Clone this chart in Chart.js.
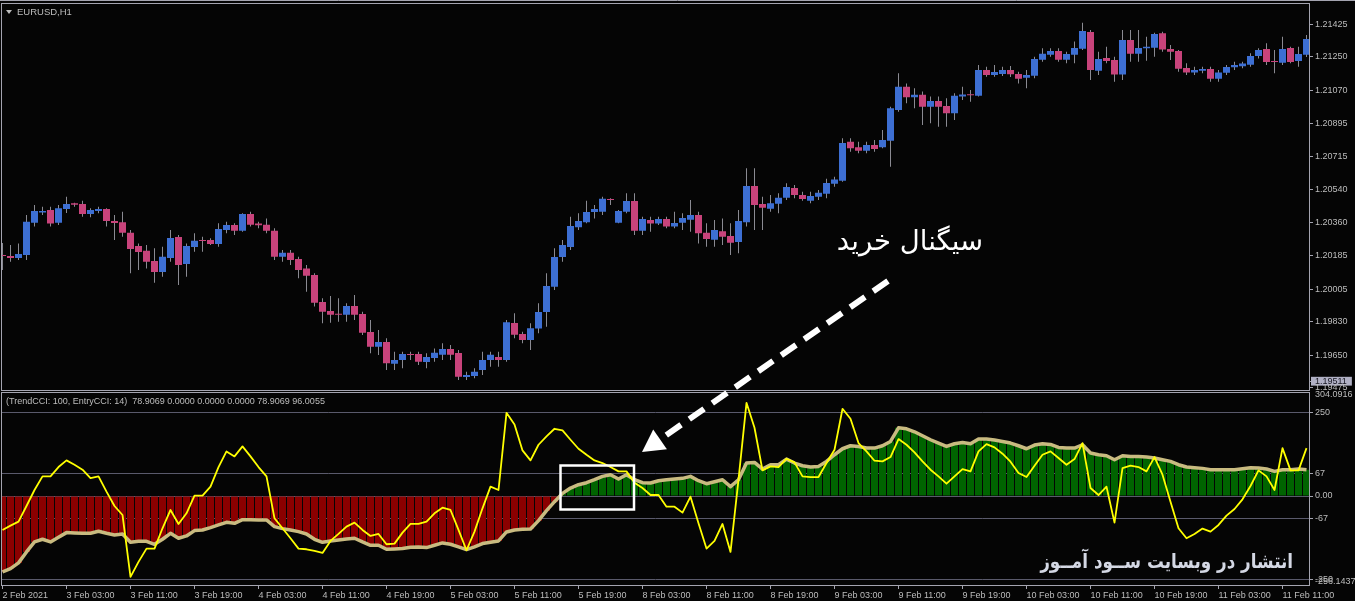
<!DOCTYPE html>
<html><head><meta charset="utf-8">
<script src="https://cdn.jsdelivr.net/npm/chart.js@4.4.1/dist/chart.umd.min.js"></script>
<style>
html,body{margin:0;padding:0;background:#000;}
#wrap{position:relative;width:1355px;height:601px;overflow:hidden;background:#050505;}
canvas{position:absolute;left:0;top:0;}
.lbl{position:absolute;white-space:pre;font-family:'Liberation Sans',Arial,sans-serif;font-size:9px;color:#bdbdbd;line-height:1;}
.fa{position:absolute;white-space:nowrap;direction:rtl;font-family:'DejaVu Sans',sans-serif;line-height:1;}
#tri{position:absolute;left:6px;top:10px;width:0;height:0;border-left:3px solid transparent;border-right:3px solid transparent;border-top:4px solid #bdbdbd;}
</style></head><body>
<div id="wrap">
<canvas id="c" width="1355" height="601"></canvas>
<div id="tri"></div>
<div class="lbl" style="left:17px;top:7px;font-size:9.5px">EURUSD,H1</div>
<div class="lbl" style="left:6px;top:397px">(TrendCCI: 100, EntryCCI: 14)  78.9069 0.0000 0.0000 0.0000 78.9069 96.0055</div>
<div class="fa" style="right:372px;top:227px;font-size:27.5px;color:#ffffff">سیگنال خرید</div>
<div class="fa" style="right:62px;top:551px;font-size:20px;font-weight:bold;color:#d4d8e4;transform:scaleX(0.84);transform-origin:right center">انتشار در وبسایت ســود آمــوز</div>
</div>
<script>
// ---- price candles (EURUSD H1, from 2 Feb 19:00 to 11 Feb 14:00) ----
const open = [1.20184,1.20182,1.20172,1.20188,1.20361,1.20415,1.20429,1.20361,1.20434,1.20465,1.20461,1.20408,1.20424,1.20434,1.20370,1.20364,1.20307,1.20236,1.20211,1.20156,1.20097,1.20172,1.20284,1.20140,1.20231,1.20268,1.20268,1.20247,1.20322,1.20349,1.20318,1.20408,1.20356,1.20350,1.20318,1.20179,1.20200,1.20166,1.20116,1.20081,1.19936,1.19888,1.19872,1.19868,1.19914,1.19872,1.19775,1.19696,1.19721,1.19605,1.19625,1.19657,1.19657,1.19614,1.19636,1.19653,1.19684,1.19662,1.19534,1.19539,1.19571,1.19625,1.19641,1.19625,1.19823,1.19764,1.19732,1.19793,1.19882,1.20018,1.20177,1.20231,1.20336,1.20364,1.20418,1.20420,1.20488,1.20361,1.20420,1.20477,1.20318,1.20375,1.20356,1.20381,1.20340,1.20361,1.20377,1.20402,1.20307,1.20270,1.20315,1.20290,1.20258,1.20364,1.20558,1.20461,1.20436,1.20463,1.20495,1.20547,1.20510,1.20479,1.20500,1.20516,1.20570,1.20586,1.20795,1.20765,1.20747,1.20778,1.20765,1.20801,1.20965,1.21090,1.21033,1.21047,1.20983,1.21014,1.20987,1.20948,1.21037,1.21049,1.21042,1.21180,1.21153,1.21158,1.21180,1.21158,1.21138,1.21149,1.21235,1.21262,1.21282,1.21235,1.21262,1.21294,1.21384,1.21176,1.21244,1.21233,1.21155,1.21341,1.21267,1.21296,1.21299,1.21377,1.21292,1.21282,1.21190,1.21167,1.21176,1.21185,1.21133,1.21165,1.21194,1.21200,1.21208,1.21255,1.21292,1.21228,1.21219,1.21298,1.21228,1.21262];
const high = [1.20252,1.20241,1.20250,1.20402,1.20456,1.20447,1.20447,1.20456,1.20500,1.20468,1.20479,1.20438,1.20447,1.20438,1.20402,1.20420,1.20322,1.20250,1.20241,1.20224,1.20232,1.20322,1.20295,1.20250,1.20304,1.20286,1.20277,1.20358,1.20366,1.20358,1.20411,1.20420,1.20366,1.20384,1.20331,1.20215,1.20215,1.20179,1.20134,1.20090,1.19956,1.19968,1.19956,1.19929,1.19973,1.19884,1.19839,1.19786,1.19741,1.19669,1.19669,1.19669,1.19669,1.19661,1.19687,1.19714,1.19705,1.19678,1.19562,1.19580,1.19669,1.19669,1.19669,1.19839,1.19875,1.19776,1.19822,1.19929,1.20090,1.20224,1.20268,1.20393,1.20411,1.20479,1.20456,1.20500,1.20492,1.20429,1.20519,1.20519,1.20393,1.20393,1.20393,1.20393,1.20420,1.20411,1.20483,1.20420,1.20358,1.20375,1.20384,1.20358,1.20429,1.20653,1.20653,1.20500,1.20510,1.20519,1.20573,1.20563,1.20527,1.20527,1.20536,1.20596,1.20608,1.20814,1.20814,1.20795,1.20795,1.20804,1.20858,1.20983,1.21162,1.21108,1.21082,1.21064,1.21037,1.21037,1.21028,1.21055,1.21090,1.21072,1.21207,1.21197,1.21207,1.21197,1.21201,1.21171,1.21180,1.21251,1.21296,1.21296,1.21296,1.21278,1.21332,1.21433,1.21394,1.21278,1.21305,1.21251,1.21394,1.21394,1.21394,1.21358,1.21380,1.21385,1.21314,1.21287,1.21216,1.21197,1.21197,1.21197,1.21180,1.21207,1.21224,1.21224,1.21269,1.21296,1.21323,1.21287,1.21358,1.21305,1.21305,1.21368];
const low = [1.20107,1.20152,1.20161,1.20161,1.20340,1.20402,1.20340,1.20349,1.20413,1.20447,1.20393,1.20390,1.20411,1.20340,1.20268,1.20286,1.20090,1.20107,1.20116,1.20039,1.20071,1.20152,1.20027,1.20071,1.20205,1.20205,1.20241,1.20232,1.20304,1.20295,1.20313,1.20340,1.20331,1.20304,1.20161,1.20152,1.20134,1.20063,1.19991,1.19911,1.19822,1.19825,1.19830,1.19830,1.19839,1.19759,1.19661,1.19652,1.19571,1.19571,1.19580,1.19625,1.19598,1.19580,1.19616,1.19625,1.19625,1.19518,1.19518,1.19527,1.19544,1.19589,1.19589,1.19616,1.19741,1.19714,1.19678,1.19768,1.19803,1.20000,1.20152,1.20215,1.20322,1.20358,1.20384,1.20402,1.20456,1.20358,1.20411,1.20295,1.20295,1.20313,1.20349,1.20331,1.20331,1.20322,1.20313,1.20250,1.20232,1.20232,1.20241,1.20188,1.20197,1.20340,1.20322,1.20322,1.20420,1.20411,1.20483,1.20492,1.20479,1.20465,1.20483,1.20492,1.20554,1.20581,1.20742,1.20733,1.20733,1.20742,1.20760,1.20661,1.20956,1.21001,1.20974,1.20885,1.20894,1.20876,1.20876,1.20912,1.21019,1.21010,1.21037,1.21144,1.21144,1.21148,1.21142,1.21108,1.21082,1.21135,1.21224,1.21251,1.21224,1.21216,1.21216,1.21287,1.21126,1.21153,1.21216,1.21117,1.21126,1.21224,1.21224,1.21229,1.21251,1.21278,1.21233,1.21171,1.21153,1.21153,1.21162,1.21117,1.21117,1.21153,1.21180,1.21189,1.21197,1.21242,1.21207,1.21162,1.21207,1.21216,1.21197,1.21250];
const close = [1.20182,1.20172,1.20193,1.20366,1.20424,1.20424,1.20356,1.20438,1.20461,1.20457,1.20408,1.20429,1.20434,1.20370,1.20359,1.20307,1.20220,1.20204,1.20152,1.20097,1.20179,1.20279,1.20134,1.20236,1.20264,1.20263,1.20247,1.20327,1.20349,1.20318,1.20408,1.20350,1.20347,1.20318,1.20179,1.20200,1.20161,1.20107,1.20077,1.19932,1.19884,1.19868,1.19868,1.19914,1.19868,1.19771,1.19696,1.19721,1.19607,1.19625,1.19657,1.19652,1.19616,1.19641,1.19664,1.19684,1.19653,1.19535,1.19544,1.19562,1.19625,1.19653,1.19625,1.19827,1.19760,1.19732,1.19795,1.19882,1.20022,1.20177,1.20241,1.20343,1.20370,1.20418,1.20434,1.20490,1.20483,1.20424,1.20477,1.20318,1.20381,1.20356,1.20381,1.20340,1.20359,1.20386,1.20402,1.20304,1.20274,1.20322,1.20286,1.20254,1.20370,1.20558,1.20456,1.20441,1.20465,1.20495,1.20552,1.20510,1.20488,1.20504,1.20522,1.20574,1.20592,1.20788,1.20760,1.20747,1.20778,1.20756,1.20804,1.20974,1.21090,1.21033,1.21047,1.20983,1.21014,1.20983,1.20948,1.21042,1.21049,1.21044,1.21180,1.21153,1.21169,1.21180,1.21157,1.21133,1.21153,1.21239,1.21267,1.21282,1.21235,1.21266,1.21298,1.21389,1.21180,1.21239,1.21228,1.21155,1.21341,1.21267,1.21298,1.21305,1.21373,1.21289,1.21278,1.21187,1.21167,1.21180,1.21185,1.21133,1.21167,1.21196,1.21207,1.21214,1.21255,1.21287,1.21223,1.21223,1.21292,1.21223,1.21266,1.21346];

// ---- indicator: TrendCCI(100) histogram/line and EntryCCI(14) line ----
const trendCCI = [-228,-218,-201,-168,-138,-130,-138,-124,-110,-111,-112,-112,-106,-112,-117,-114,-139,-136,-136,-145,-130,-112,-127,-120,-104,-102,-95,-87,-79,-82,-71,-71,-72,-72,-92,-98,-102,-107,-114,-130,-139,-135,-132,-129,-127,-138,-148,-148,-160,-159,-158,-154,-153,-155,-148,-141,-145,-153,-161,-153,-143,-139,-135,-108,-102,-100,-99,-74,-44,-17,8,24,34,40,49,59,64,51,64,49,40,39,46,49,51,53,59,46,37,43,49,28,49,99,101,81,94,94,111,99,91,87,89,104,124,142,151,149,144,144,151,164,205,202,193,181,169,159,149,157,161,157,171,171,168,164,159,151,142,153,157,155,146,144,144,154,129,124,121,109,121,119,119,117,114,109,104,94,87,85,83,79,79,79,79,82,85,84,81,74,79,79,81,79];
const entryCCI = [-102,-89,-77,-30,18,59,59,87,107,94,79,54,59,13,-30,-57,-243,-198,-158,-158,-97,-42,-84,-52,1,1,28,87,134,119,149,119,87,59,-67,-97,-127,-158,-160,-165,-171,-135,-114,-92,-80,-102,-120,-114,-145,-143,-110,-84,-84,-77,-52,-35,-42,-102,-163,-107,-37,28,18,250,215,137,107,154,179,202,197,169,142,124,107,99,87,74,74,40,24,3,3,-32,-32,-50,-2,-82,-158,-135,-84,-168,49,280,205,77,89,87,112,101,59,57,57,99,139,262,232,159,134,106,104,117,171,154,131,104,79,59,37,59,81,74,134,156,146,127,103,69,57,91,124,134,114,94,111,159,24,3,28,-80,84,91,87,74,117,64,-17,-97,-127,-114,-98,-107,-87,-59,-39,-10,30,77,59,18,144,77,77,144];

// ---- axis ticks ----
const xTickIndex = [0,8,16,24,32,40,48,56,64,72,80,88,96,104,112,120,128,136,144,152,160];
const xTickLabels = ["2 Feb 2021","3 Feb 03:00","3 Feb 11:00","3 Feb 19:00","4 Feb 03:00","4 Feb 11:00","4 Feb 19:00","5 Feb 03:00","5 Feb 11:00","5 Feb 19:00","8 Feb 03:00","8 Feb 11:00","8 Feb 19:00","9 Feb 03:00","9 Feb 11:00","9 Feb 19:00","10 Feb 03:00","10 Feb 11:00","10 Feb 19:00","11 Feb 03:00","11 Feb 11:00"];
const priceTicks = [1.21425,1.21250,1.21070,1.20895,1.20715,1.20540,1.20360,1.20185,1.20005,1.19830,1.19650,1.19511,1.19475];
const priceTickLabels = ["1.21425","1.21250","1.21070","1.20895","1.20715","1.20540","1.20360","1.20185","1.20005","1.19830","1.19650","1.19511","1.19475"];
const currentPrice = 1.19511;
const cciTicks = [304.0916,250,67,0,-67,-250,-256.1437];
const cciTickLabels = ["304.0916","250","67","0.00","-67","-250","-256.1437"];
const cciLevels = [250,67,0,-67,-250];

// ---- styling ----
const BG='#050505', TXT='#bdbdbd', FRAME='#a4a4b0', LEVEL='#5a5a6c';
const BULL='#3d6fd3', BEAR='#c8437b', WICK='#8a8a92';
const RED='#8b0000', GREEN='#006400', TAN='#c9bb80', YEL='#ffff00';

Chart.defaults.font.family = "'Liberation Sans', Arial, sans-serif";
Chart.defaults.font.size = 9;
Chart.defaults.color = TXT;

const idx = open.map((_, i) => i);
const bodies = idx.map(i => ({x: i, y: [open[i], close[i]]}));
const wicks = idx.map(i => ({x: i, y: [low[i], high[i]]}));
const histPts = idx.map(i => ({x: i, y: trendCCI[i]}));
const trendPts = idx.map(i => ({x: i, y: trendCCI[i]}));
const entryPts = idx.map(i => ({x: i, y: entryCCI[i]}));

const decor = {
  id: 'decor',
  beforeDraw(chart) {
    const c = chart.ctx; c.save(); c.fillStyle = BG; c.fillRect(0, 0, chart.width, chart.height); c.restore();
  },
  afterDraw(chart) {
    const c = chart.ctx; c.save();
    c.strokeStyle = FRAME; c.lineWidth = 1;
    c.beginPath(); c.moveTo(0, 0.5); c.lineTo(chart.width, 0.5); c.stroke();
    c.strokeRect(1.5, 3.5, 1308, 387);
    c.strokeRect(1.5, 392.5, 1308, 193);
    // highlight box
    c.strokeStyle = '#ffffff'; c.lineWidth = 2.5;
    c.strokeRect(560.5, 465.5, 73.5, 44);
    // dashed arrow
    const x0 = 888, y0 = 281, tx = 642, ty = 452;
    const dx = tx - x0, dy = ty - y0, L = Math.hypot(dx, dy), ux = dx / L, uy = dy / L;
    const hl = 22, hw = 12;
    const bx = tx - ux * hl, by = ty - uy * hl;
    c.lineWidth = 6; c.setLineDash([18, 10]); c.lineCap = 'butt';
    c.beginPath(); c.moveTo(x0, y0); c.lineTo(bx - ux * 5, by - uy * 5); c.stroke();
    c.setLineDash([]);
    c.fillStyle = '#ffffff';
    c.beginPath(); c.moveTo(tx, ty);
    c.lineTo(bx - uy * hw, by + ux * hw); c.lineTo(bx + uy * hw, by - ux * hw);
    c.closePath(); c.fill();
    c.restore();
  }
};

new Chart(document.getElementById('c'), {
  type: 'bar',
  data: {
    datasets: [
      {type: 'bar', label: 'Body', data: bodies, yAxisID: 'price', xAxisID: 'x', order: 0,
       backgroundColor: ctx => (ctx.dataIndex === undefined ? BULL : (close[ctx.dataIndex] >= open[ctx.dataIndex] ? BULL : BEAR)),
       barThickness: 7, maxBarThickness: 7, grouped: false, minBarLength: 1, inflateAmount: 0, borderWidth: 0},
      {type: 'bar', label: 'Wick', data: wicks, yAxisID: 'price', xAxisID: 'x', order: 1,
       backgroundColor: WICK, barThickness: 1, maxBarThickness: 1, grouped: false, inflateAmount: 0, borderWidth: 0},
      {type: 'line', label: 'EntryCCI', data: entryPts, yAxisID: 'cci', xAxisID: 'x', order: 2,
       borderColor: YEL, borderWidth: 1.8, pointRadius: 0, tension: 0, borderJoinStyle: 'round'},
      {type: 'line', label: 'TrendCCI', data: trendPts, yAxisID: 'cci', xAxisID: 'x', order: 3,
       borderColor: TAN, borderWidth: 3.5, pointRadius: 0, tension: 0, borderJoinStyle: 'round'},
      {type: 'bar', label: 'TrendHist', data: histPts, yAxisID: 'cci', xAxisID: 'x', order: 4,
       backgroundColor: ctx => (ctx.raw && ctx.raw.y < 0 ? RED : GREEN),
       barThickness: 7, maxBarThickness: 7, grouped: false, inflateAmount: 0, borderWidth: 0}
    ]
  },
  options: {
    responsive: false, animation: false, events: [], devicePixelRatio: 1,
    layout: {padding: {left: 2, top: 3, right: 0, bottom: 0}},
    plugins: {legend: {display: false}, tooltip: {enabled: false}},
    scales: {
      x: {type: 'linear', position: 'bottom', min: -0.0625, max: 163.3125, offset: false,
        grid: {display: true, drawOnChartArea: false, drawTicks: true, tickLength: 3, color: FRAME, offset: false},
        border: {display: false},
        ticks: {align: 'start', autoSkip: false, maxRotation: 0, minRotation: 0, padding: 1, color: TXT,
          callback: (v, i) => xTickLabels[i]},
        afterBuildTicks: s => { s.ticks = xTickIndex.map(v => ({value: v})); },
        afterFit: s => { s.height = 15; s.paddingLeft = 0; s.paddingRight = 0; }
      },
      price: {type: 'linear', position: 'right', stack: 'panes', stackWeight: 387.5,
        min: 1.194612, max: 1.215390, beginAtZero: false, offset: false,
        grid: {drawOnChartArea: false, drawTicks: true, tickLength: 4, tickColor: FRAME, color: FRAME},
        border: {display: false},
        ticks: {autoSkip: false, padding: 2, crossAlign: 'near',
          color: c => (c.tick && c.tick.value === currentPrice ? '#15151f' : TXT),
          showLabelBackdrop: c => !!(c.tick && c.tick.value === currentPrice),
          backdropColor: '#b0b0c4', backdropPadding: {left: 4, right: 5, top: -1, bottom: -1},
          callback: (v, i) => priceTickLabels[i]},
        afterBuildTicks: s => { s.ticks = priceTicks.map(v => ({value: v})); },
        afterFit: s => { s.width = 46; s.paddingTop = 0; s.paddingBottom = 0; }
      },
      cci: {type: 'linear', position: 'right', stack: 'panes', stackWeight: 195.5,
        min: -270.4, max: 317.0, beginAtZero: false, offset: false,
        grid: {drawOnChartArea: true, drawTicks: true, tickLength: 4,
          color: c => (c.tick && cciLevels.includes(c.tick.value) ? LEVEL : 'rgba(0,0,0,0)'),
          tickColor: c => (c.tick && cciLevels.includes(c.tick.value) ? FRAME : 'rgba(0,0,0,0)')},
        border: {display: false},
        ticks: {autoSkip: false, padding: 2, crossAlign: 'near', color: TXT,
          callback: (v, i) => cciTickLabels[i]},
        afterBuildTicks: s => { s.ticks = cciTicks.map(v => ({value: v})); },
        afterFit: s => { s.width = 46; s.paddingTop = 0; s.paddingBottom = 0; }
      }
    }
  },
  plugins: [decor]
});
</script>
</body></html>
